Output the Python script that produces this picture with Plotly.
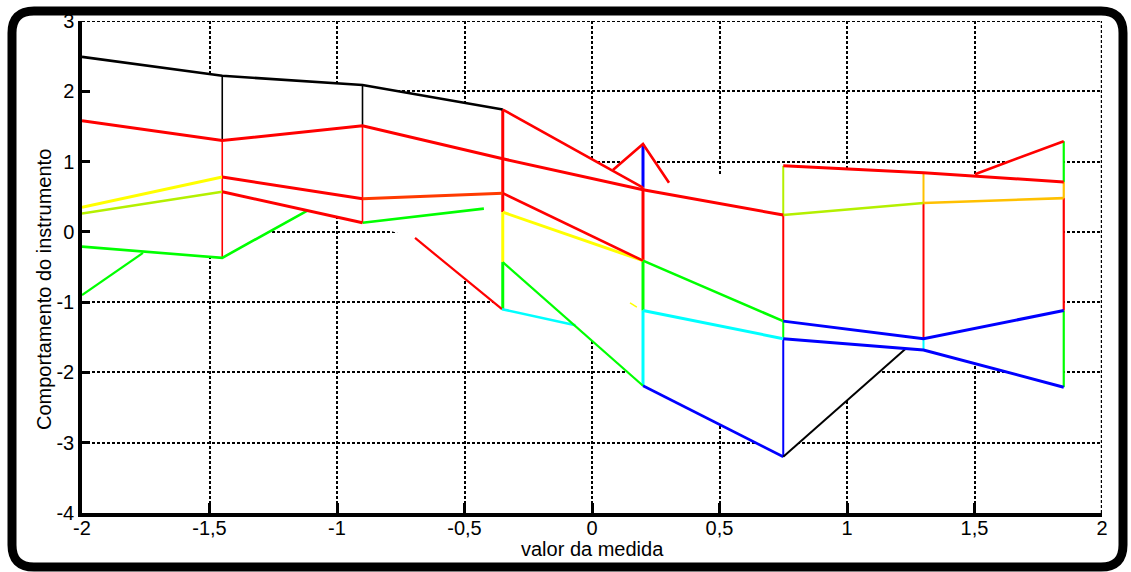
import plotly.graph_objects as go

# ---------------------------------------------------------------- data
# Stations along the measured value axis
stations = [-2.0, -1.45, -0.9, -0.35, 0.2, 0.75, 1.3, 1.85]

black_top_x = [-2.0, -1.45, -0.9, -0.35]
black_top_y = [2.49, 2.22, 2.09, 1.74]
red_drop_x = [-0.35, 0.2]
red_drop_y = [1.74, 0.63]
red_a_x = [-2.0, -1.45, -0.9, -0.35, 0.2, 0.75]
red_a_y = [1.58, 1.30, 1.51, 1.04, 0.60, 0.24]
red_b_x = [0.75, 1.3, 1.85]
red_b_y = [0.94, 0.84, 0.71]
peak_mid_x = [0.082, 0.2, 0.302]
peak_mid_y = [0.88, 1.25, 0.70]
peak_right_x = [1.502, 1.85]
peak_right_y = [0.82, 1.29]
yellow_left_x = [-2.0, -1.45]
yellow_left_y = [0.35, 0.78]
red_c_x = [-1.45, -0.9, -0.35, 0.2]
red_c_y = [0.78, 0.47, 0.55, -0.41]
lime_left_x = [-2.0, -1.45]
lime_left_y = [0.26, 0.57]
red_d_x = [-1.45, -0.9]
red_d_y = [0.57, 0.13]
green_short_x = [-0.9, -0.424]
green_short_y = [0.13, 0.33]
green_low_x = [-2.0, -1.45, -1.118]
green_low_y = [-0.21, -0.37, 0.30]
green_edge_x = [-2.0, -1.761]
green_edge_y = [-0.90, -0.30]
yellow_mid_x = [-0.35, 0.2]
yellow_mid_y = [0.28, -0.41]
red_e_x = [-0.694, -0.353]
red_e_y = [-0.087, -1.10]
green_diag_x = [-0.35, 0.2]
green_diag_y = [-0.43, -2.19]
cyan_short_x = [-0.353, -0.065]
cyan_short_y = [-1.10, -1.33]
green_mid_x = [0.2, 0.75]
green_mid_y = [-0.41, -1.27]
cyan_mid_x = [0.2, 0.75]
cyan_mid_y = [-1.12, -1.52]
blue_low_x = [0.2, 0.75]
blue_low_y = [-2.19, -3.20]
black_rise_x = [0.75, 1.231]
black_rise_y = [-3.20, -1.66]
blue_a_x = [0.75, 1.3, 1.85]
blue_a_y = [-1.27, -1.52, -1.12]
blue_b_x = [0.75, 1.3, 1.85]
blue_b_y = [-1.52, -1.68, -2.21]
lime_right_x = [0.75, 1.3]
lime_right_y = [0.24, 0.41]
amber_right_x = [1.3, 1.85]
amber_right_y = [0.41, 0.48]
speck_x = [0.149, 0.176]
speck_y = [-1.01, -1.07]

# Break points of the vertical connectors at each station (top to bottom)
vertical_breaks = {
    -1.45: [2.22, 1.30, -0.37],
    -0.9: [2.09, 1.51, 0.13],
    -0.35: [1.74, 0.28, -0.43, -1.10],
    0.2: [1.25, 0.63, -0.41, -1.12, -2.19],
    0.75: [0.94, 0.24, -1.27, -1.52, -3.20],
    1.3: [0.84, 0.41, -1.52, -1.68],
    1.85: [1.29, 0.71, 0.48, -1.12, -2.21],
}

x_tick_vals = [-2, -1.5, -1, -0.5, 0, 0.5, 1, 1.5, 2]
x_tick_text = ["-2", "-1,5", "-1", "-0,5", "0", "0,5", "1", "1,5", "2"]
y_tick_vals = [-4, -3, -2, -1, 0, 1, 2, 3]
y_tick_text = ["-4", "-3", "-2", "-1", "0", "1", "2", "3"]

# ---------------------------------------------------------------- styles
RED = "#ff0000"
GREEN = "#00ff00"
YELLOW = "#ffff00"
CYAN = "#00ffff"
BLUE = "#0000ff"
BLACK = "#000000"
LIME = "#b4f000"
AMBER = "#ffc000"
ORANGE_RED = "#ff3a00"

vertical_colors = {
    -1.45: [BLACK, RED],
    -0.9: [BLACK, RED],
    -0.35: [RED, YELLOW, GREEN],
    0.2: [BLUE, RED, GREEN, CYAN],
    0.75: [LIME, RED, GREEN, BLUE],
    1.3: [AMBER, RED, CYAN],
    1.85: [GREEN, AMBER, RED, GREEN],
}
vertical_widths = {-1.45: 1.6, -0.9: 1.6, -0.35: 3, 0.2: 3,
                   0.75: 2, 1.3: 2, 1.85: 2.2}

fig = go.Figure()

# white patch enclosing the traced region (hides the grid underneath)
patch_x = (black_top_x + peak_mid_x + red_b_x[:2] + peak_right_x
           + [blue_b_x[2], blue_b_x[1]] + black_rise_x[::-1]
           + [blue_low_x[0]] + cyan_short_x[::-1] + [red_e_x[0]]
           + [red_d_x[1], green_low_x[2], green_low_x[1], green_low_x[0]])
patch_y = (black_top_y + peak_mid_y + red_b_y[:2] + peak_right_y
           + [blue_b_y[2], blue_b_y[1]] + black_rise_y[::-1]
           + [blue_low_y[0]] + cyan_short_y[::-1] + [red_e_y[0]]
           + [red_d_y[1], green_low_y[2], green_low_y[1], green_low_y[0]])
fig.add_trace(go.Scatter(x=patch_x, y=patch_y, mode="lines", fill="toself",
                         fillcolor="white", line=dict(width=0, color="white"),
                         hoverinfo="skip", showlegend=False))


def add_line(xs, ys, color, width):
    fig.add_trace(go.Scatter(x=xs, y=ys, mode="lines",
                             line=dict(color=color, width=width),
                             hoverinfo="skip", showlegend=False))


# vertical connectors
for xv, breaks in vertical_breaks.items():
    for i, col in enumerate(vertical_colors[xv]):
        add_line([xv, xv], [breaks[i], breaks[i + 1]], col,
                 vertical_widths[xv])

add_line(green_edge_x, green_edge_y, GREEN, 2.2)
add_line(green_low_x, green_low_y, GREEN, 2.6)
add_line(lime_left_x, lime_left_y, LIME, 2.6)
add_line(yellow_left_x, yellow_left_y, YELLOW, 3)
add_line(green_short_x, green_short_y, GREEN, 2.6)
add_line(red_d_x, red_d_y, RED, 3)
add_line(red_c_x[:2], red_c_y[:2], RED, 3)
add_line(red_c_x[1:3], red_c_y[1:3], ORANGE_RED, 3)
add_line(yellow_mid_x, yellow_mid_y, YELLOW, 3)
add_line(red_c_x[2:], red_c_y[2:], RED, 2.6)
add_line(red_e_x, red_e_y, RED, 2.2)
add_line(cyan_short_x, cyan_short_y, CYAN, 2.6)
add_line(green_diag_x, green_diag_y, GREEN, 2.2)
add_line(green_mid_x, green_mid_y, GREEN, 2.6)
add_line(cyan_mid_x, cyan_mid_y, CYAN, 3)
add_line(blue_low_x, blue_low_y, BLUE, 2.6)
add_line(black_rise_x, black_rise_y, BLACK, 2)
add_line(blue_a_x, blue_a_y, BLUE, 3)
add_line(blue_b_x, blue_b_y, BLUE, 3)
add_line(lime_right_x, lime_right_y, LIME, 2.6)
add_line(amber_right_x, amber_right_y, AMBER, 2.6)
add_line(speck_x, speck_y, YELLOW, 1.5)
add_line(black_top_x, black_top_y, BLACK, 2.6)
add_line(red_drop_x, red_drop_y, RED, 2.6)
add_line(red_a_x, red_a_y, RED, 3)
add_line(red_b_x, red_b_y, RED, 3)
add_line(peak_mid_x, peak_mid_y, RED, 2.6)
add_line(peak_right_x, peak_right_y, RED, 2.6)

# ---------------------------------------------------------------- layout
W, H = 1131, 572
ML, MR, MT, MB = 82, 29, 21, 59
PW, PH = W - ML - MR, H - MT - MB


def px_x(p):
    return (p - ML) / PW


def px_y(p):
    return (H - MB - p) / PH


FONT = "Liberation Sans, Arial, sans-serif"
GRID_DASH = "3px,2px"

axis_common = dict(
    showgrid=True, gridcolor=BLACK, gridwidth=1.8, griddash=GRID_DASH,
    zeroline=False, showline=True, linecolor=BLACK,
    ticks="inside", tickcolor=BLACK,
    tickfont=dict(family=FONT, size=20, color=BLACK),
    automargin=False, fixedrange=True,
)

fig.update_layout(
    width=W, height=H,
    margin=dict(l=ML, r=MR, t=MT, b=MB),
    paper_bgcolor="white", plot_bgcolor="white",
    showlegend=False,
    xaxis=dict(range=[-2, 2], tickvals=x_tick_vals, ticktext=x_tick_text,
               linewidth=4, ticklen=10, tickwidth=3, ticklabelstandoff=-6,
               **axis_common),
    yaxis=dict(range=[-4, 3], tickvals=y_tick_vals, ticktext=y_tick_text,
               linewidth=3.5, ticklen=8, tickwidth=3, **axis_common),
)

# dotted top and right borders of the axes box
fig.add_shape(type="line", xref="x", yref="y", x0=-2, x1=2, y0=3, y1=3,
              line=dict(color=BLACK, width=2, dash=GRID_DASH))
fig.add_shape(type="line", xref="x", yref="y", x0=2, x1=2, y0=-4, y1=3,
              line=dict(color=BLACK, width=2.4, dash=GRID_DASH))

# rounded outer frame
L, R, T, B, r = 12, 1123, 11, 567, 22
pts = [
    ("M", [(L + r, T)]), ("L", [(R - r, T)]), ("Q", [(R, T), (R, T + r)]),
    ("L", [(R, B - r)]), ("Q", [(R, B), (R - r, B)]), ("L", [(L + r, B)]),
    ("Q", [(L, B), (L, B - r)]), ("L", [(L, T + r)]), ("Q", [(L, T), (L + r, T)]),
]
path = ""
for cmd, coords in pts:
    path += cmd + " ".join(f"{px_x(a):.5f},{px_y(b):.5f}" for a, b in coords) + " "
path += "Z"
fig.add_shape(type="path", xref="paper", yref="paper", path=path,
              line=dict(color=BLACK, width=9), fillcolor="rgba(0,0,0,0)")

# axis titles
fig.add_annotation(text="valor da medida", xref="paper", yref="paper",
                   x=px_x(592), y=px_y(549), xanchor="center", yanchor="middle",
                   showarrow=False, font=dict(family=FONT, size=20, color=BLACK))
fig.add_annotation(text="Comportamento do instrumento", xref="paper", yref="paper",
                   x=px_x(44), y=px_y(290), xanchor="center", yanchor="middle",
                   textangle=-90, showarrow=False,
                   font=dict(family=FONT, size=20, color=BLACK))

fig.write_html("out.html")
